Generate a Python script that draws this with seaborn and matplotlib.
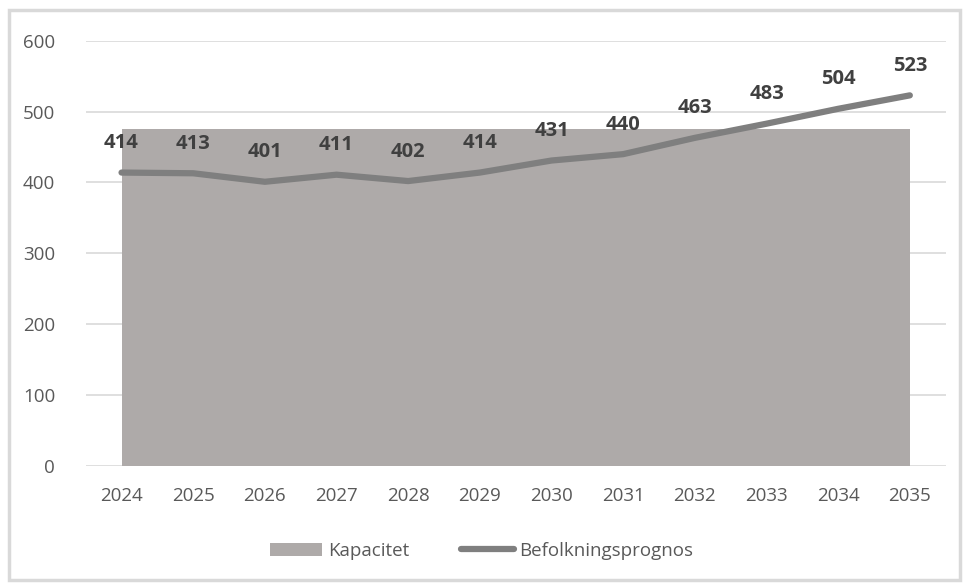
import matplotlib
matplotlib.use('Agg')
import matplotlib.pyplot as plt
import seaborn as sns
import pandas as pd
from matplotlib.patches import Patch, Rectangle
from matplotlib.lines import Line2D

# Data
years = ['2024', '2025', '2026', '2027', '2028', '2029', '2030', '2031', '2032', '2033', '2034', '2035']
befolkning = [414, 413, 401, 411, 402, 414, 431, 440, 463, 483, 504, 523]
kapacitet = [475] * len(years)
y_ticks = [0, 100, 200, 300, 400, 500, 600]

area_color = '#aeaaa9'
line_color = '#7f7f7f'
text_color = '#595959'

sns.set_theme(style='white')
plt.rcParams['font.family'] = ['Open Sans', 'DejaVu Sans']

df = pd.DataFrame({'x': range(len(years)), 'Befolkningsprognos': befolkning, 'Kapacitet': kapacitet})

fig = plt.figure(figsize=(9.63, 5.83), dpi=100)
ax = fig.add_axes([0.089, 0.201, 0.893, 0.729])

# Grid lines
for t in y_ticks:
    ax.axhline(t, color='#d9d9d9', lw=1.2, zorder=0)

ax.fill_between(df['x'], 0, df['Kapacitet'], color=area_color, lw=0, zorder=1)
sns.lineplot(data=df, x='x', y='Befolkningsprognos', ax=ax, color=line_color,
             lw=4.5, zorder=3, legend=False)

for i, v in enumerate(befolkning):
    ax.annotate(str(v), (i, v), xytext=(0, 14), textcoords='offset points',
                ha='center', va='bottom', fontsize=14.5, fontweight='bold', color='#404040')

ax.set_xlim(-0.5, len(years) - 0.5)
ax.set_ylim(0, 600)
ax.set_yticks(y_ticks)
ax.set_xticks(range(len(years)))
ax.set_xticklabels(years)
ax.tick_params(axis='both', labelsize=13.5, colors=text_color, length=0)
ax.tick_params(axis='x', pad=15)
ax.tick_params(axis='y', pad=22)
ax.set_xlabel('')
ax.set_ylabel('')
for s in ax.spines.values():
    s.set_visible(False)

handles = [Patch(facecolor=area_color, edgecolor='none', label='Kapacitet'),
           Line2D([0], [0], color=line_color, lw=4.5, label='Befolkningsprognos')]
fig.legend(handles=handles, loc='center', bbox_to_anchor=(0.5, 0.055), ncol=2,
           frameon=False, fontsize=13.5, labelcolor=text_color, handlelength=2.8,
           handletextpad=0.3, columnspacing=2.8)

# Outer border
fig.patches.append(Rectangle((0.009, 0.005), 0.988, 0.978, transform=fig.transFigure,
                             fill=False, edgecolor='#d9d9d9', lw=2.5))

fig.savefig('out.png', dpi=100)
